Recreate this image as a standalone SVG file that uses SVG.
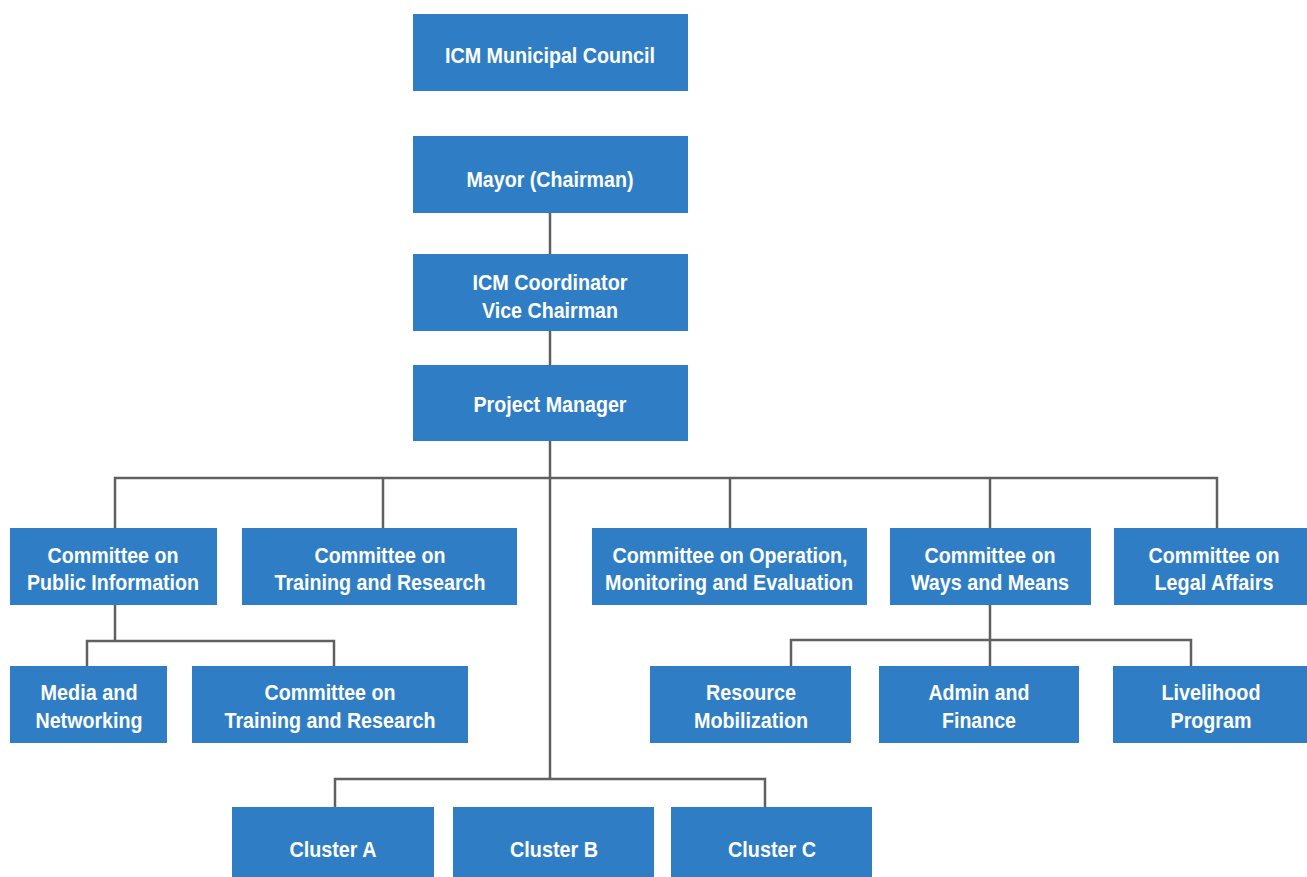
<svg xmlns="http://www.w3.org/2000/svg" width="1307" height="877" viewBox="0 0 1307 877">
<style>
.box{fill:#2f7ec5;}
.t{font-family:"Liberation Sans",Arial,sans-serif;font-weight:bold;font-size:22px;fill:#ffffff;text-anchor:middle;}
.c{fill:none;stroke:#606060;stroke-width:2.5;}
</style>
<rect width="1307" height="877" fill="#ffffff"/>
<g id="connectors">
<path class="c" d="M550 213V254M550 331V365M550 441V779"/>
<path class="c" d="M115 528V478H1217V528M383 478V528M730 478V528M990 478V528"/>
<path class="c" d="M115 605V641M87 666V641H334V666"/>
<path class="c" d="M990 605V666M791 666V640H1191V666"/>
<path class="c" d="M335 807V779H765V807"/>
</g>
<g id="n-council"><rect class="box" x="413" y="14" width="275" height="77"/><text class="t" x="550" y="63" textLength="210" lengthAdjust="spacingAndGlyphs">ICM Municipal Council</text></g>
<g id="n-mayor"><rect class="box" x="413" y="136" width="275" height="77"/><text class="t" x="550" y="187" textLength="167" lengthAdjust="spacingAndGlyphs">Mayor (Chairman)</text></g>
<g id="n-coordinator"><rect class="box" x="413" y="254" width="275" height="77"/><text class="t" x="550" y="290" textLength="155" lengthAdjust="spacingAndGlyphs">ICM Coordinator</text><text class="t" x="550" y="318" textLength="136" lengthAdjust="spacingAndGlyphs">Vice Chairman</text></g>
<g id="n-pm"><rect class="box" x="413" y="365" width="275" height="76"/><text class="t" x="550" y="412" textLength="153" lengthAdjust="spacingAndGlyphs">Project Manager</text></g>
<g id="n-public"><rect class="box" x="10" y="528" width="207" height="77"/><text class="t" x="113" y="563" textLength="131" lengthAdjust="spacingAndGlyphs">Committee on</text><text class="t" x="113" y="590" textLength="172" lengthAdjust="spacingAndGlyphs">Public Information</text></g>
<g id="n-training"><rect class="box" x="242" y="528" width="275" height="77"/><text class="t" x="380" y="563" textLength="131" lengthAdjust="spacingAndGlyphs">Committee on</text><text class="t" x="380" y="590" textLength="211" lengthAdjust="spacingAndGlyphs">Training and Research</text></g>
<g id="n-operation"><rect class="box" x="592" y="528" width="275" height="77"/><text class="t" x="730" y="563" textLength="235" lengthAdjust="spacingAndGlyphs">Committee on Operation,</text><text class="t" x="729" y="590" textLength="248" lengthAdjust="spacingAndGlyphs">Monitoring and Evaluation</text></g>
<g id="n-ways"><rect class="box" x="890" y="528" width="201" height="77"/><text class="t" x="990" y="563" textLength="131" lengthAdjust="spacingAndGlyphs">Committee on</text><text class="t" x="990" y="590" textLength="158" lengthAdjust="spacingAndGlyphs">Ways and Means</text></g>
<g id="n-legal"><rect class="box" x="1114" y="528" width="200" height="77"/><text class="t" x="1214" y="563" textLength="131" lengthAdjust="spacingAndGlyphs">Committee on</text><text class="t" x="1214" y="590" textLength="119" lengthAdjust="spacingAndGlyphs">Legal Affairs</text></g>
<g id="n-media"><rect class="box" x="10" y="666" width="157" height="77"/><text class="t" x="89" y="700" textLength="97" lengthAdjust="spacingAndGlyphs">Media and</text><text class="t" x="89" y="728" textLength="107" lengthAdjust="spacingAndGlyphs">Networking</text></g>
<g id="n-training2"><rect class="box" x="192" y="666" width="276" height="77"/><text class="t" x="330" y="700" textLength="131" lengthAdjust="spacingAndGlyphs">Committee on</text><text class="t" x="330" y="728" textLength="211" lengthAdjust="spacingAndGlyphs">Training and Research</text></g>
<g id="n-resource"><rect class="box" x="650" y="666" width="201" height="77"/><text class="t" x="751" y="700" textLength="90" lengthAdjust="spacingAndGlyphs">Resource</text><text class="t" x="751" y="728" textLength="114" lengthAdjust="spacingAndGlyphs">Mobilization</text></g>
<g id="n-admin"><rect class="box" x="879" y="666" width="200" height="77"/><text class="t" x="979" y="700" textLength="101" lengthAdjust="spacingAndGlyphs">Admin and</text><text class="t" x="979" y="728" textLength="74" lengthAdjust="spacingAndGlyphs">Finance</text></g>
<g id="n-livelihood"><rect class="box" x="1113" y="666" width="200" height="77"/><text class="t" x="1211" y="700" textLength="99" lengthAdjust="spacingAndGlyphs">Livelihood</text><text class="t" x="1211" y="728" textLength="81" lengthAdjust="spacingAndGlyphs">Program</text></g>
<g id="n-clusterA"><rect class="box" x="232" y="807" width="202" height="75"/><text class="t" x="333" y="857" textLength="87" lengthAdjust="spacingAndGlyphs">Cluster A</text></g>
<g id="n-clusterB"><rect class="box" x="453" y="807" width="201" height="75"/><text class="t" x="554" y="857" textLength="88" lengthAdjust="spacingAndGlyphs">Cluster B</text></g>
<g id="n-clusterC"><rect class="box" x="671" y="807" width="201" height="75"/><text class="t" x="772" y="857" textLength="88" lengthAdjust="spacingAndGlyphs">Cluster C</text></g>
</svg>
